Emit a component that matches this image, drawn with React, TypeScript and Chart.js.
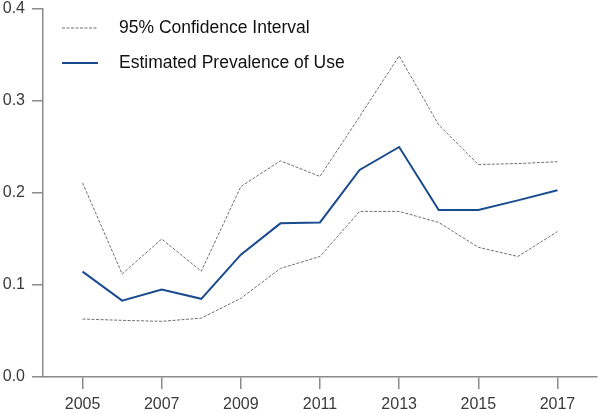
import React, { useEffect, useRef } from "react";
import { Chart, registerables } from "chart.js";

Chart.register(...registerables);

const years = [2005, 2006, 2007, 2008, 2009, 2010, 2011, 2012, 2013, 2014, 2015, 2016, 2017];
const estimate = [0.1145, 0.083, 0.095, 0.085, 0.133, 0.167, 0.168, 0.225, 0.25, 0.1815, 0.1815, 0.192, 0.203];
const upperCI = [0.211, 0.112, 0.15, 0.115, 0.207, 0.235, 0.218, 0.283, 0.349, 0.274, 0.231, 0.232, 0.234];
const lowerCI = [0.063, 0.0616, 0.0605, 0.064, 0.0855, 0.118, 0.131, 0.18, 0.18, 0.168, 0.141, 0.131, 0.158];
const xTicks = [2005, 2007, 2009, 2011, 2013, 2015, 2017];
const yTicks = [0, 0.1, 0.2, 0.3, 0.4];
const ciLabel = "95% Confidence Interval";
const estLabel = "Estimated Prevalence of Use";

const FONT = "'Liberation Sans', Arial, Helvetica, sans-serif";
const GRAY = "#707070";
const BLUE = "#1a4b8f";
const AXIS = "#8a8a8a";
const TEXT = "#3a3a3a";

const legendPlugin = {
  id: "customLegend",
  afterDraw(chart: any) {
    const ctx = chart.ctx;
    const left = chart.chartArea.left;
    const top = chart.chartArea.top;
    const rows = [
      { label: ciLabel, color: GRAY, width: 1, dash: [3, 1.5], y: top + 19 },
      { label: estLabel, color: BLUE, width: 2, dash: [], y: top + 54 },
    ];
    ctx.save();
    rows.forEach((r) => {
      ctx.beginPath();
      ctx.setLineDash(r.dash);
      ctx.strokeStyle = r.color;
      ctx.lineWidth = r.width;
      ctx.moveTo(left + 19, r.y);
      ctx.lineTo(left + 55, r.y);
      ctx.stroke();
      ctx.setLineDash([]);
      ctx.fillStyle = "#111111";
      ctx.font = `17.5px ${FONT}`;
      ctx.textBaseline = "middle";
      ctx.textAlign = "left";
      ctx.fillText(r.label, left + 76, r.y);
    });
    ctx.restore();
  },
};

export default function App() {
  const ref = useRef<HTMLCanvasElement>(null);
  useEffect(() => {
    document.body.style.margin = "0";
    const toPts = (arr: number[]) => arr.map((v, i) => ({ x: years[i], y: v }));
    const chart = new Chart(ref.current!, {
      type: "line",
      data: {
        datasets: [
          {
            label: ciLabel,
            data: toPts(upperCI),
            borderColor: GRAY,
            borderWidth: 1,
            borderDash: [3, 1.5],
            pointRadius: 0,
            fill: false,
            tension: 0,
          },
          {
            label: ciLabel,
            data: toPts(lowerCI),
            borderColor: GRAY,
            borderWidth: 1,
            borderDash: [3, 1.5],
            pointRadius: 0,
            fill: false,
            tension: 0,
          },
          {
            label: estLabel,
            data: toPts(estimate),
            borderColor: BLUE,
            borderWidth: 2,
            pointRadius: 0,
            fill: false,
            tension: 0,
          },
        ],
      },
      options: {
        responsive: false,
        animation: false,
        layout: { padding: { top: 0, right: 3, left: 0, bottom: 0 } },
        plugins: { legend: { display: false }, tooltip: { enabled: false } },
        scales: {
          x: {
            type: "linear",
            min: 2004,
            max: 2018,
            afterBuildTicks: (s: any) => {
              s.ticks = xTicks.map((v) => ({ value: v }));
            },
            afterFit: (s: any) => {
              s.height = 36;
              s.paddingLeft = 0;
              s.paddingRight = 0;
            },
            grid: {
              display: true,
              drawOnChartArea: false,
              drawTicks: true,
              tickLength: 12,
              color: AXIS,
              lineWidth: 1.5,
            },
            border: { display: true, color: AXIS, width: 1.5 },
            ticks: {
              padding: 6,
              color: TEXT,
              font: { family: FONT, size: 16 },
              maxRotation: 0,
              autoSkip: false,
              callback: (v: any) => String(v),
            },
          },
          y: {
            type: "linear",
            min: 0,
            max: 0.4,
            afterBuildTicks: (s: any) => {
              s.ticks = yTicks.map((v) => ({ value: v }));
            },
            afterFit: (s: any) => {
              s.width = 43;
              s.paddingTop = 9;
              s.paddingBottom = 0;
            },
            grid: {
              display: true,
              drawOnChartArea: false,
              drawTicks: true,
              tickLength: 11,
              color: AXIS,
              lineWidth: 1.5,
            },
            border: { display: true, color: AXIS, width: 1.5 },
            ticks: {
              padding: 7,
              color: TEXT,
              font: { family: FONT, size: 16 },
              callback: (v: any) => Number(v).toFixed(1),
            },
          },
        },
      },
      plugins: [legendPlugin],
    });
    return () => chart.destroy();
  }, []);
  return <canvas ref={ref} width={600} height={413} style={{ display: "block" }} />;
}
